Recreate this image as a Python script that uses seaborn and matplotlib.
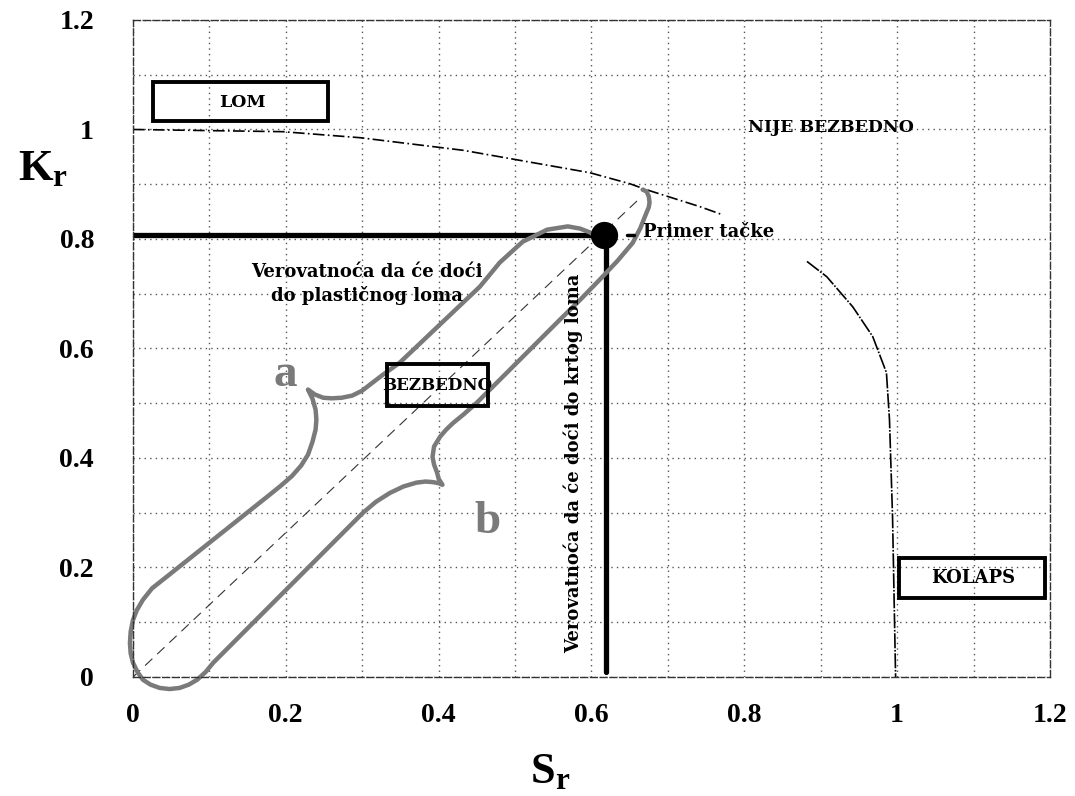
import matplotlib
matplotlib.use("Agg")
import matplotlib.pyplot as plt
import seaborn as sns
import pandas as pd
from matplotlib.patches import Rectangle

# ---------------- data ----------------
# failure assessment curve (two visible pieces of the scanned curve)
curve1_sr = [0.0, 0.196, 0.297, 0.432, 0.598, 0.650, 0.672, 0.742, 0.770]
curve1_kr = [1.0, 0.996, 0.985, 0.962, 0.921, 0.901, 0.890, 0.859, 0.845]
curve2_sr = [0.882, 0.908, 0.942, 0.968, 0.986, 0.990, 0.994, 0.998]
curve2_kr = [0.759, 0.731, 0.676, 0.622, 0.556, 0.470, 0.293, 0.0]

# example point
point_sr = [0.616]
point_kr = [0.808]

# load line (dashed diagonal)
load_sr = [0.0, 0.66]
load_kr = [0.0, 0.87]

# gray scatter band outline with braces a / b
band_sr = [0.608, 0.598, 0.585, 0.569, 0.542, 0.510, 0.480, 0.454, 0.349, 0.327,
           0.312, 0.300, 0.287, 0.273, 0.260, 0.249, 0.238, 0.229,
           0.235, 0.239, 0.240, 0.239, 0.235, 0.229, 0.220, 0.208, 0.194, 0.179,
           0.044, 0.025, 0.013, 0.005, 0.000, -0.003, -0.004, -0.003, 0.000, 0.006,
           0.013, 0.023, 0.035, 0.048, 0.061, 0.073, 0.084, 0.095, 0.105,
           0.301, 0.318, 0.336, 0.354, 0.371, 0.383, 0.392, 0.400, 0.405,
           0.400, 0.398, 0.394, 0.392, 0.394, 0.402, 0.410, 0.419, 0.433, 0.450,
           0.559, 0.586, 0.611, 0.634, 0.654, 0.664, 0.672, 0.675, 0.676, 0.675,
           0.672, 0.667]
band_kr = [0.803, 0.812, 0.819, 0.823, 0.817, 0.795, 0.757, 0.713, 0.574, 0.552,
           0.536, 0.523, 0.514, 0.510, 0.509, 0.510, 0.516, 0.525,
           0.508, 0.488, 0.470, 0.452, 0.430, 0.406, 0.386, 0.367, 0.350, 0.333,
           0.183, 0.162, 0.141, 0.122, 0.104, 0.083, 0.062, 0.043, 0.026, 0.009,
           -0.005, -0.014, -0.020, -0.022, -0.020, -0.014, -0.005, 0.009, 0.026,
           0.300, 0.320, 0.336, 0.348, 0.355, 0.357, 0.356, 0.354, 0.351,
           0.362, 0.373, 0.388, 0.402, 0.421, 0.439, 0.452, 0.464, 0.480, 0.501,
           0.653, 0.690, 0.726, 0.760, 0.793, 0.820, 0.848, 0.858, 0.867, 0.878,
           0.887, 0.890]

x_ticks = [0, 0.2, 0.4, 0.6, 0.8, 1.0, 1.2]
x_tick_labels = ["0", "0.2", "0.4", "0.6", "0.8", "1", "1.2"]
y_ticks = [0, 0.2, 0.4, 0.6, 0.8, 1.0, 1.2]
y_tick_labels = ["0", "0.2", "0.4", "0.6", "0.8", "1", "1.2"]

# ---------------- style ----------------
sns.set_theme(style="white")
plt.rcParams["font.family"] = ["DejaVu Serif", "DejaVu Sans"]
plt.rcParams["mathtext.fontset"] = "custom"
plt.rcParams["mathtext.bf"] = "Liberation Serif:bold"
plt.rcParams["mathtext.rm"] = "Liberation Serif"

fig = plt.figure(figsize=(10.75, 7.96), dpi=100)
ax = fig.add_axes([0.1237, 0.1495, 0.853, 0.8254])

ax.set_xlim(0, 1.2)
ax.set_ylim(0, 1.2)

# grid every 0.1
ax.set_xticks([i / 10 for i in range(13)], minor=True)
ax.set_yticks([i / 10 for i in range(13)], minor=True)
ax.grid(which="both", color="#555555", linestyle=(0, (1, 3)), linewidth=1.0)
ax.set_axisbelow(True)

for s in ax.spines.values():
    s.set_color("#333333")
    s.set_linewidth(1.0)
    s.set_linestyle((0, (5, 2)))

tick_font = dict(family="Liberation Serif", weight="bold", size=20, color="black")
ax.set_xticks(x_ticks)
ax.set_xticklabels(x_tick_labels, fontdict=tick_font)
ax.set_yticks(y_ticks)
ax.set_yticklabels(y_tick_labels, fontdict=tick_font)
ax.tick_params(axis="both", which="both", length=0, labelcolor="black")
ax.tick_params(axis="x", pad=19)
ax.tick_params(axis="y", pad=28)

# failure curve
df1 = pd.DataFrame({"Sr": curve1_sr, "Kr": curve1_kr})
df2 = pd.DataFrame({"Sr": curve2_sr, "Kr": curve2_kr})
sns.lineplot(data=df1, x="Sr", y="Kr", ax=ax, sort=False, estimator=None,
             color="black", linewidth=1.2, linestyle=(0, (7, 2, 1, 2)))
sns.lineplot(data=df2, x="Sr", y="Kr", ax=ax, sort=False, estimator=None,
             color="black", linewidth=1.2, linestyle=(0, (9, 1, 1, 1)))

# dashed load line
sns.lineplot(x=load_sr, y=load_kr, ax=ax, sort=False, estimator=None,
             color="#333333", linewidth=0.8, linestyle=(0, (9, 6)))

# thick lines to the example point
sns.lineplot(x=[0.0, point_sr[0]], y=[point_kr[0], point_kr[0]], ax=ax,
             estimator=None, color="black", linewidth=3.8)
sns.lineplot(x=[point_sr[0] + 0.003, point_sr[0] + 0.003], y=[point_kr[0], 0.01], ax=ax,
             estimator=None, color="black", linewidth=3.8)

# gray band outline
band = pd.DataFrame({"Sr": band_sr, "Kr": band_kr})
sns.lineplot(data=band, x="Sr", y="Kr", ax=ax, sort=False, estimator=None,
             color="#7a7a7a", linewidth=3.2)
band_line = ax.lines[-1]
band_line.set_clip_on(False)
band_line.set_solid_capstyle("round")
band_line.set_solid_joinstyle("round")

# example point
sns.scatterplot(x=point_sr, y=point_kr, ax=ax, s=330, color="black",
                edgecolor="black", zorder=6)
ax.plot([0.647, 0.656], [0.808, 0.808], color="black", linewidth=2.5)

ax.set_xlabel("")
ax.set_ylabel("")

# ---------------- annotations ----------------
txt = dict(weight="bold", color="black", family="DejaVu Serif")

ax.add_patch(Rectangle((0.026, 1.015), 0.229, 0.071, fill=False, edgecolor="black",
                       linewidth=2.8, zorder=5))
ax.text(0.143, 1.049, "LOM", ha="center", va="center", fontsize=12.5, **txt)

ax.text(0.914, 1.004, "NIJE BEZBEDNO", ha="center", va="center", fontsize=12.5, **txt)

ax.text(0.306, 0.718, "Verovatnoća da će doći\ndo plastičnog loma", ha="center",
        va="center", fontsize=13, linespacing=1.35, **txt)

ax.add_patch(Rectangle((0.332, 0.495), 0.132, 0.077, fill=False, edgecolor="black",
                       linewidth=2.8, zorder=5))
ax.text(0.398, 0.533, "BEZBEDNO", ha="center", va="center", fontsize=12, **txt)

ax.add_patch(Rectangle((1.003, 0.144), 0.191, 0.074, fill=False, edgecolor="black",
                       linewidth=2.8, zorder=5, clip_on=False))
ax.text(1.099, 0.181, "KOLAPS", ha="center", va="center", fontsize=13, **txt)

ax.text(0.667, 0.812, "Primer tačke", ha="left", va="center", fontsize=13, **txt)

ax.text(0.576, 0.390, "Verovatnoća da će doći do krtog loma", ha="center", va="center",
        rotation=90, fontsize=13, **txt)

ax.text(0.199, 0.552, "a", ha="center", va="center", fontsize=34, weight="bold",
        color="#7a7a7a", family="Liberation Serif")
ax.text(0.464, 0.283, "b", ha="center", va="center", fontsize=34, weight="bold",
        color="#7a7a7a", family="Liberation Serif")

# axis labels
ax.text(-0.098, 0.775, r"$\mathbf{K_r}$", transform=ax.transAxes, ha="center",
        va="center", fontsize=32, color="black")
ax.text(0.455, -0.142, r"$\mathbf{S_r}$", transform=ax.transAxes, ha="center",
        va="center", fontsize=32, color="black")

fig.savefig("out.png", dpi=100)
